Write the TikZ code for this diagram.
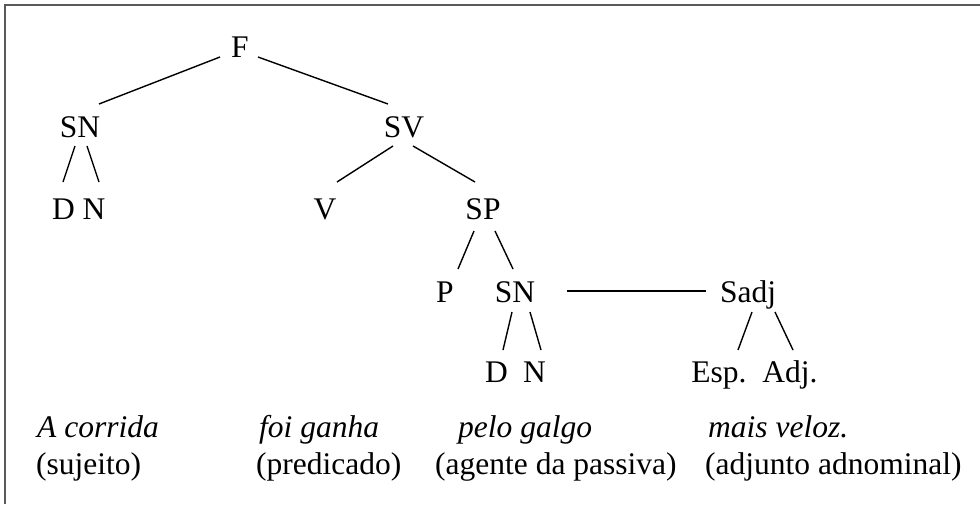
\documentclass[tikz,border=0pt]{standalone}
\usepackage{fontspec}
\setmainfont{Liberation Serif}
\begin{document}
\begin{tikzpicture}[x=1pt,y=-1pt,
  lbl/.style={anchor=base,inner sep=0pt,font=\fontsize{31.5}{38}\selectfont},
  txt/.style={anchor=base west,inner sep=0pt,font=\fontsize{31.5}{38}\selectfont},
  itx/.style={txt,font=\fontsize{31.5}{38}\selectfont\itshape},
  edge/.style={line width=1.4pt,black},
  frame/.style={line width=1.8pt,black!65}]
\useasboundingbox (0,0) rectangle (980,504);
\draw[frame] (980,5) -- (5,5) -- (5,504);
% tree nodes
\node[lbl] (F) at (240,57) {F};
\node[lbl] (SNa) at (80,137) {SN};
\node[lbl] (SV) at (404,137) {SV};
\node[lbl] (Da) at (63.5,219) {D};
\node[lbl] (Na) at (94,219) {N};
\node[lbl] (V) at (325,219) {V};
\node[lbl] (SP) at (483,219) {SP};
\node[lbl] (P) at (445,302) {P};
\node[lbl] (SNb) at (515,302) {SN};
\node[lbl] (Sadj) at (748,302) {Sadj};
\node[lbl] (Db) at (496.5,382) {D};
\node[lbl] (Nb) at (534.5,382) {N};
\node[lbl] (Esp) at (719,382) {Esp.};
\node[lbl] (Adj) at (790,382) {Adj.};
% connectors
\draw[edge] ([shift={(-20,0)}]F.base) -- ([shift={(19,-33)}]SNa.base);
\draw[edge] ([shift={(18,0)}]F.base) -- ([shift={(-16,-33)}]SV.base);
\draw[edge] ([shift={(-5,9)}]SNa.base) -- ([shift={(-0.5,-37)}]Da.base);
\draw[edge] ([shift={(7,9)}]SNa.base) -- ([shift={(5,-37)}]Na.base);
\draw[edge] ([shift={(-11,9)}]SV.base) -- ([shift={(12,-37)}]V.base);
\draw[edge] ([shift={(9,9)}]SV.base) -- ([shift={(-8,-37)}]SP.base);
\draw[edge] ([shift={(-9,12)}]SP.base) -- ([shift={(13,-33)}]P.base);
\draw[edge] ([shift={(12,12)}]SP.base) -- ([shift={(-2,-33)}]SNb.base);
\draw[edge] ([shift={(52,-11)}]SNb.base) -- ([shift={(-42,-11)}]Sadj.base);
\draw[edge] ([shift={(-3,10)}]SNb.base) -- ([shift={(6.5,-32)}]Db.base);
\draw[edge] ([shift={(15,10)}]SNb.base) -- ([shift={(6.5,-32)}]Nb.base);
\draw[edge] ([shift={(4,10)}]Sadj.base) -- ([shift={(19,-32)}]Esp.base);
\draw[edge] ([shift={(27,10)}]Sadj.base) -- ([shift={(3,-32)}]Adj.base);
% sentence
\node[itx] (w1) at (37,437) {A corrida};
\node[txt] (f1) at (36,474) {(sujeito)};
\node[itx] (w2) at (259,437) {foi ganha};
\node[txt] (f2) at (256,474) {(predicado)};
\node[itx] (w3) at (458,437) {pelo galgo};
\node[txt] (f3) at (435,474) {(agente da passiva)};
\node[itx] (w4) at (708,437) {mais veloz.};
\node[txt] (f4) at (705,474) {(adjunto adnominal)};
\end{tikzpicture}
\end{document}
